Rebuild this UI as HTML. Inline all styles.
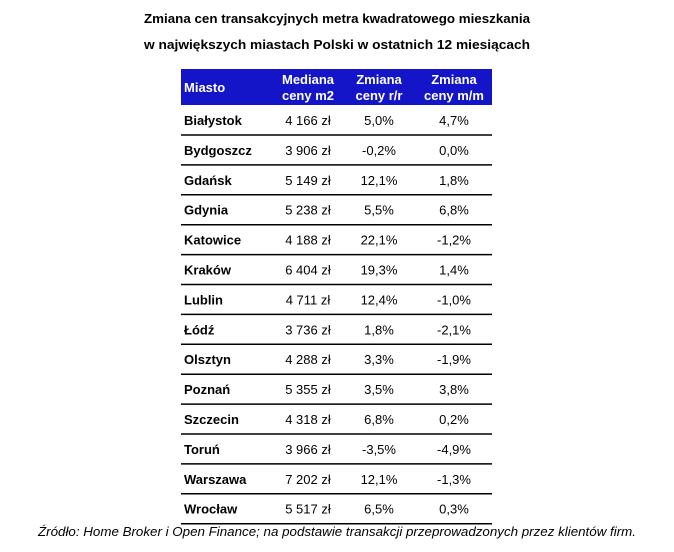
<!DOCTYPE html>
<html><head><meta charset="utf-8"><style>
html,body{margin:0;padding:0;background:#fff;}
svg{display:block;font-family:"Liberation Sans",sans-serif;}
</style></head><body>
<svg width="674" height="552" viewBox="0 0 674 552">
<text x="337" y="23" text-anchor="middle" font-size="13" font-weight="bold" textLength="386" lengthAdjust="spacingAndGlyphs">Zmiana cen transakcyjnych metra kwadratowego mieszkania</text>
<text x="337" y="49" text-anchor="middle" font-size="13" font-weight="bold" textLength="386" lengthAdjust="spacingAndGlyphs">w największych miastach Polski w ostatnich 12 miesiącach</text>
<rect x="181" y="69" width="311" height="36" fill="#1414c8"/>
<g fill="#fff" font-weight="bold" font-size="13">
<text x="184" y="92">Miasto</text>
<text x="308" y="84" text-anchor="middle">Mediana</text>
<text x="308" y="100" text-anchor="middle">ceny m2</text>
<text x="379" y="84" text-anchor="middle">Zmiana</text>
<text x="379" y="100" text-anchor="middle">ceny r/r</text>
<text x="454" y="84" text-anchor="middle">Zmiana</text>
<text x="454" y="100" text-anchor="middle">ceny m/m</text>
</g>
<g id="rows"></g>
<text x="337" y="536" text-anchor="middle" font-size="13" font-style="italic" textLength="598" lengthAdjust="spacingAndGlyphs">Źródło: Home Broker i Open Finance; na podstawie transakcji przeprowadzonych przez klientów firm.</text>
</svg>
<script>
const cities=["Białystok","Bydgoszcz","Gdańsk","Gdynia","Katowice","Kraków","Lublin","Łódź","Olsztyn","Poznań","Szczecin","Toruń","Warszawa","Wrocław"];
const medians=["4 166 zł","3 906 zł","5 149 zł","5 238 zł","4 188 zł","6 404 zł","4 711 zł","3 736 zł","4 288 zł","5 355 zł","4 318 zł","3 966 zł","7 202 zł","5 517 zł"];
const yoy=["5,0%","-0,2%","12,1%","5,5%","22,1%","19,3%","12,4%","1,8%","3,3%","3,5%","6,8%","-3,5%","12,1%","6,5%"];
const mom=["4,7%","0,0%","1,8%","6,8%","-1,2%","1,4%","-1,0%","-2,1%","-1,9%","3,8%","0,2%","-4,9%","-1,3%","0,3%"];
const NS="http://www.w3.org/2000/svg";
const g=document.getElementById('rows');
function t(x,y,s,anchor,bold,name){
  const e=document.createElementNS(NS,'text');
  e.setAttribute('x',x);e.setAttribute('y',y);e.setAttribute('font-size','13');
  if(anchor)e.setAttribute('text-anchor',anchor);
  if(bold)e.setAttribute('font-weight','bold');
  
  
  e.textContent=s;g.appendChild(e);
}
cities.forEach((c,i)=>{
  const y=125+i*29.9;
  t(184,y,c,null,true,'city-name');
  t(308,y,medians[i],'middle',false,'median-price');
  t(379,y,yoy[i],'middle',false,'change-yoy');
  t(454,y,mom[i],'middle',false,'change-mom');
  const l=document.createElementNS(NS,'line');
  const ly=135+i*29.9;
  l.setAttribute('x1',181);l.setAttribute('x2',492);l.setAttribute('y1',ly);l.setAttribute('y2',ly);
  l.setAttribute('stroke','#000');l.setAttribute('stroke-width','1.5');
  
  
  g.appendChild(l);
});
</script>
</body></html>
